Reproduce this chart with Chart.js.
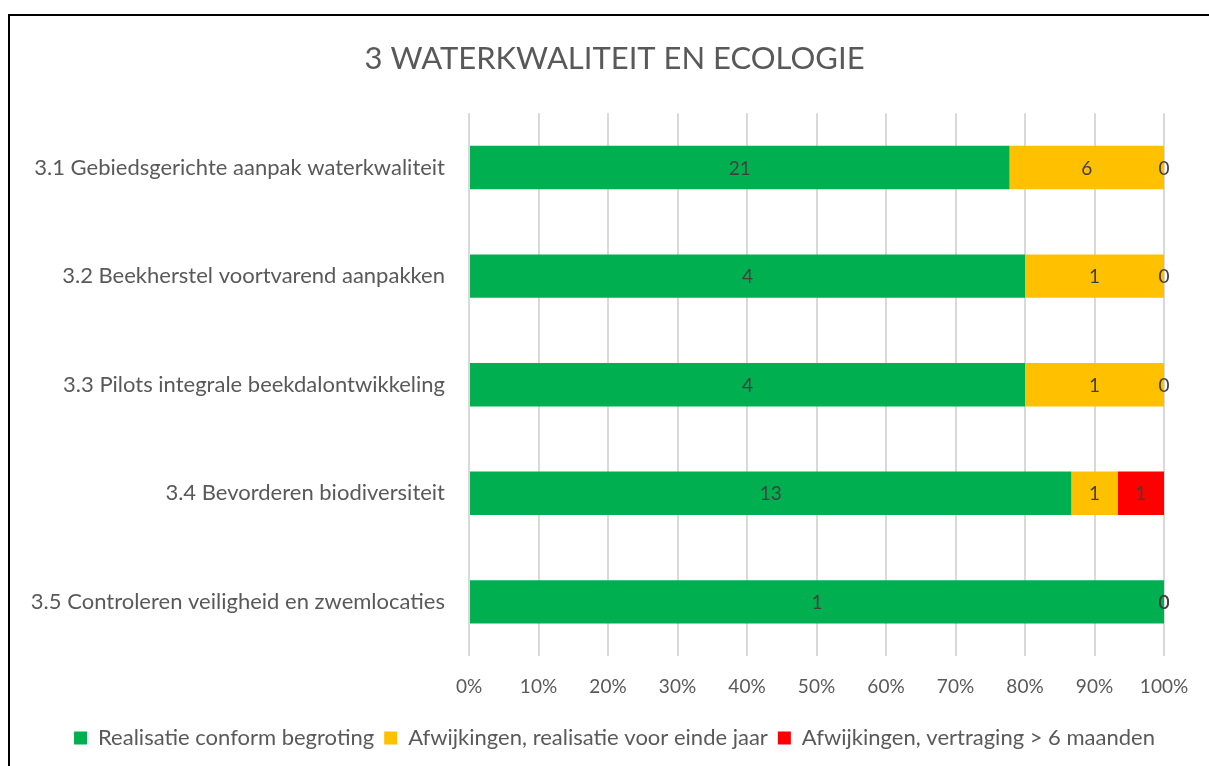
<!DOCTYPE html>
<html>
<head>
<meta charset="utf-8">
<script src="https://cdn.jsdelivr.net/npm/chart.js@4/dist/chart.umd.min.js"></script>
<style>
  body { margin: 0; background: #fff; overflow: hidden; }
  #frame { position: absolute; left: 8px; top: 14px; width: 1400px; height: 1000px; border: 2px solid #000; }
  #chart { position: absolute; left: 0; top: 0; }
</style>
</head>
<body>
<div id="frame"></div>
<canvas id="chart" width="1209" height="766"></canvas>
<script>
const categories = [
  "3.1 Gebiedsgerichte aanpak waterkwaliteit",
  "3.2 Beekherstel voortvarend aanpakken",
  "3.3 Pilots integrale beekdalontwikkeling",
  "3.4 Bevorderen biodiversiteit",
  "3.5 Controleren veiligheid en zwemlocaties",
];
const seriesNames = [
  "Realisatie conform begroting",
  "Afwijkingen, realisatie voor einde jaar",
  "Afwijkingen, vertraging > 6 maanden",
];
const realisatie = [21, 4, 4, 13, 1];
const voorEindeJaar = [6, 1, 1, 1, 0];
const vertraging = [0, 0, 0, 1, 0];
const colors = ["#00b050", "#ffc000", "#ff0000"];

const counts = [realisatie, voorEindeJaar, vertraging];
const totals = categories.map((_, i) => counts.reduce((s, arr) => s + arr[i], 0));
const toPct = (arr) => arr.map((v, i) => (v / totals[i]) * 100);

const FONT = "Lato";
const GREY = "#595959";
const PAD_LEFT = 20;

// draws the count in the middle of each segment
const valueLabels = {
  id: "valueLabels",
  afterDatasetsDraw(chart) {
    const ctx = chart.ctx;
    ctx.save();
    ctx.font = `19px ${FONT}`;
    ctx.fillStyle = "#404040";
    ctx.textAlign = "center";
    ctx.textBaseline = "middle";
    chart.data.datasets.forEach((ds, di) => {
      const meta = chart.getDatasetMeta(di);
      meta.data.forEach((bar, i) => {
        const x = (bar.x + bar.base) / 2;
        ctx.fillText(String(counts[di][i]), x, bar.y + 1);
      });
    });
    ctx.restore();
  },
};

new Chart(document.getElementById("chart"), {
  type: "bar",
  data: {
    labels: categories,
    datasets: counts.map((arr, i) => ({
      label: seriesNames[i],
      data: toPct(arr),
      backgroundColor: colors[i],
      borderWidth: 0,
      barPercentage: 0.8,
      categoryPercentage: 0.5,
    })),
  },
  options: {
    indexAxis: "y",
    responsive: false,
    animation: false,
    devicePixelRatio: 1,
    layout: { padding: { left: PAD_LEFT, right: 0, top: 0, bottom: 7 } },
    scales: {
      x: {
        stacked: true,
        min: 0,
        max: 100,
        ticks: {
          stepSize: 10,
          callback: (v) => v + "%",
          color: GREY,
          font: { family: FONT, size: 19 },
          padding: 19,
        },
        grid: { color: "#d9d9d9", lineWidth: 2, drawTicks: false },
        border: { display: false },
      },
      y: {
        stacked: true,
        afterFit(scale) { scale.width = 469 - PAD_LEFT; },
        ticks: {
          color: GREY,
          font: { family: FONT, size: 22 },
          padding: 24,
        },
        grid: { display: false, drawTicks: false },
        border: { display: false },
      },
      // empty spacer on the right so the plot ends at 100% like the original
      spacer: {
        type: "category",
        position: "right",
        afterFit(scale) { scale.width = 45; },
        ticks: { display: false },
        grid: { display: false, drawTicks: false },
        border: { display: false },
      },
    },
    plugins: {
      title: {
        display: true,
        text: "3 WATERKWALITEIT EN ECOLOGIE",
        color: GREY,
        font: { family: FONT, size: 31, weight: "normal" },
        padding: { top: 40, bottom: 36 },
      },
      legend: {
        position: "bottom",
        labels: {
          color: GREY,
          font: { family: FONT, size: 22 },
          boxWidth: 13,
          boxHeight: 13,
          padding: 10,
        },
      },
      tooltip: { enabled: false },
    },
  },
  plugins: [valueLabels],
});
</script>
</body>
</html>
